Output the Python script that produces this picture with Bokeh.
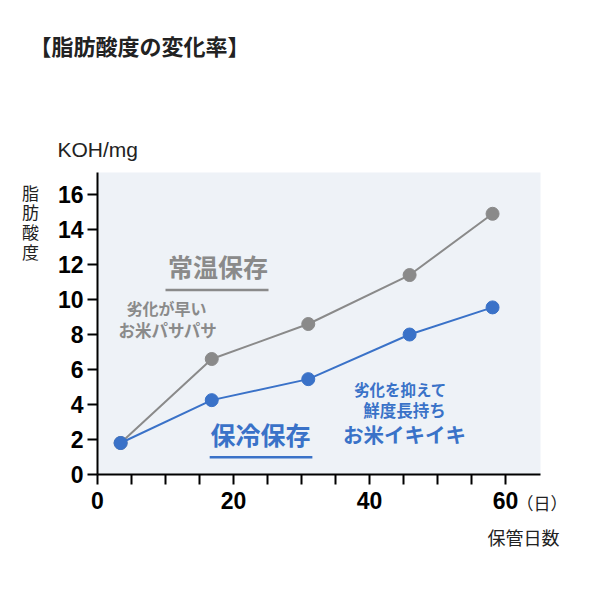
from bokeh.plotting import figure
from bokeh.models import Label, FixedTicker, Range1d
from bokeh.embed import file_html
from bokeh.resources import INLINE

days = [3.4, 16.8, 31.0, 45.9, 58.1]
room_temp = [1.8, 6.6, 8.6, 11.4, 14.9]
cold = [1.8, 4.25, 5.45, 8.0, 9.55]
x_ticks = [0, 20, 40, 60]
x_minor = [5, 10, 15, 25, 30, 35, 45, 50, 55]
y_ticks = [0, 2, 4, 6, 8, 10, 12, 14, 16]

GRAY = "#8a8a8a"
BLUE = "#3a72c8"
JP = "Noto Sans CJK JP"
NUM = "Liberation Sans"
W, H = 584, 584

p = figure(width=W, height=H, output_backend="svg", toolbar_location=None,
           x_range=Range1d(0, 65.15), y_range=Range1d(0, 17.26),
           min_border_left=97, min_border_right=W - 97 - 443, min_border_top=172,
           min_border_bottom=H - 172 - 302)
p.background_fill_color = "#eef2f7"
p.border_fill_color = "white"
p.outline_line_color = None
p.grid.visible = False

for ax in (p.xaxis[0], p.yaxis[0]):
    ax.axis_line_width = 2
    ax.axis_line_color = "black"
    ax.major_tick_line_width = 2
    ax.minor_tick_line_width = 2
    ax.major_tick_in = 0
    ax.minor_tick_in = 0
    ax.major_label_text_font = NUM
    ax.major_label_text_font_style = "bold"
    ax.major_label_text_font_size = "23px"
    ax.major_label_text_color = "black"

p.xaxis[0].ticker = FixedTicker(ticks=x_ticks, minor_ticks=x_minor)
p.xaxis[0].major_tick_out = 10
p.xaxis[0].minor_tick_out = 10
p.xaxis[0].major_label_standoff = 7
p.yaxis[0].ticker = FixedTicker(ticks=y_ticks)
p.yaxis[0].major_tick_out = 10
p.yaxis[0].minor_tick_out = 0
p.yaxis[0].major_label_standoff = 4

p.line(days, room_temp, color=GRAY, line_width=2)
p.scatter(days, room_temp, size=13, color=GRAY)
p.line(days, cold, color=BLUE, line_width=2)
p.scatter(days, cold, size=13, color=BLUE)

# decorative underlines
p.segment(x0=[10.0], y0=[10.55], x1=[25.15], y1=[10.55], color=GRAY, line_width=2.5)
p.segment(x0=[16.5], y0=[0.99], x1=[31.6], y1=[0.99], color=BLUE, line_width=2.5)

def mk(x, y, t, size, color="#222222", font=JP, style="normal", align="left", base="middle",
       lh=1.2, units="data"):
    return Label(x=x, y=y, x_units=units, y_units=units, text=t, text_font=font,
                 text_font_size=size, text_color=color, text_font_style=style,
                 text_align=align, text_baseline=base, text_line_height=lh)

# texts outside the plot area live in the side panels
p.add_layout(mk(-40, 23, "KOH/mg", "21px", font=NUM, units="screen"), "above")
p.add_layout(mk(-68, 105, "【脂肪酸度の変化率】", "22px", style="bold", units="screen"), "above")
p.add_layout(mk(-7, 295, "脂\n肪\n酸\n度", "17px", align="center", base="top", lh=0.79,
                units="screen"), "left")
p.add_layout(mk(419, 34, "（日）", "17px", units="screen"), "below")
p.add_layout(mk(390, 26, "保管日数", "18px", units="screen"), "below")

p.add_layout(mk(17.72, 11.89, "常温保存", "25px", color=GRAY, style="bold", align="center"))
p.add_layout(mk(10.15, 9.49, "劣化が早い", "16px", color=GRAY, style="bold", align="center"))
p.add_layout(mk(10.37, 8.26, "お米パサパサ", "16.5px", color=GRAY, style="bold", align="center"))

p.add_layout(mk(23.97, 2.31, "保冷保存", "25px", color=BLUE, style="bold", align="center"))
p.add_layout(mk(44.56, 4.89, "劣化を抑えて", "15.5px", color=BLUE, style="bold", align="center"))
p.add_layout(mk(45.15, 3.69, "鮮度長持ち", "16.5px", color=BLUE, style="bold", align="center"))
p.add_layout(mk(45.15, 2.29, "お米イキイキ", "20.5px", color=BLUE, style="bold", align="center"))

open("out.html", "w").write(file_html(p, INLINE))
